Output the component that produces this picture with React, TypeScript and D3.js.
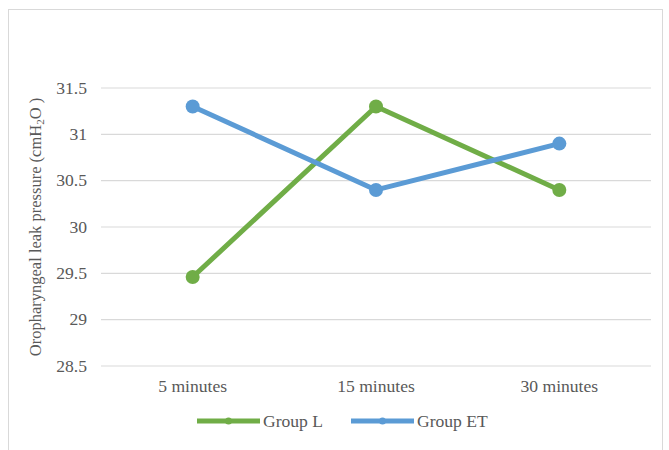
import React from "react";
import * as d3 from "d3";

const categories = ["5 minutes", "15 minutes", "30 minutes"];
const groupL = [29.46, 31.3, 30.4];
const groupET = [31.3, 30.4, 30.9];
const yTicks = [28.5, 29, 29.5, 30, 30.5, 31, 31.5];

const series = [
  { name: "Group L", values: groupL, color: "#70AD47" },
  { name: "Group ET", values: groupET, color: "#5B9BD5" },
];

const W = 669;
const H = 450;
const plot = { left: 101, right: 651, top: 88, bottom: 366 };
const font = "'Liberation Serif', 'Times New Roman', serif";
const fs = 16;
const sx = 1.1; // glyphs are slightly wide

export default function App() {
  const x = d3
    .scalePoint<string>()
    .domain(categories)
    .range([plot.left, plot.right])
    .padding(0.5);
  const y = d3.scaleLinear().domain([28.5, 31.5]).range([plot.bottom, plot.top]);
  const line = d3
    .line<number>()
    .x((_, i) => x(categories[i]) as number)
    .y((v) => y(v));

  return (
    <svg
      width={W}
      height={H}
      style={{ position: "absolute", left: 0, top: 0, background: "#fff" }}
    >
      <rect x={8.5} y={9.5} width={654} height={460} fill="#fff" stroke="#d9d9d9" />
      {yTicks.map((t) => (
        <g key={t}>
          <line
            x1={plot.left}
            x2={plot.right}
            y1={y(t)}
            y2={y(t)}
            stroke="#d9d9d9"
            strokeWidth={1.2}
          />
          <text
            transform={`translate(87, ${y(t)}) scale(${sx},1)`}
            dy="0.35em"
            textAnchor="end"
            fontFamily={font}
            fontSize={fs}
            fill="#595959"
          >
            {t}
          </text>
        </g>
      ))}
      {categories.map((c) => (
        <text
          key={c}
          transform={`translate(${x(c)}, 392) scale(${sx},1)`}
          textAnchor="middle"
          fontFamily={font}
          fontSize={fs}
          fill="#595959"
        >
          {c}
        </text>
      ))}
      <text
        transform={`translate(41, ${(plot.top + plot.bottom) / 2}) rotate(-90)`}
        textAnchor="middle"
        fontFamily={font}
        fontSize={16.5}
        fill="#595959"
      >
        Oropharyngeal leak pressure (cmH
        <tspan fontSize={11} dy={3}>2</tspan>
        <tspan dy={-3}>O )</tspan>
      </text>
      {series.map((s) => (
        <g key={s.name}>
          <path
            d={line(s.values) || ""}
            fill="none"
            stroke={s.color}
            strokeWidth={5}
            strokeLinejoin="round"
          />
          {s.values.map((v, i) => (
            <circle key={i} cx={x(categories[i])} cy={y(v)} r={7} fill={s.color} />
          ))}
        </g>
      ))}
      {series.map((s, i) => {
        const lx = i === 0 ? 197 : 351;
        return (
          <g key={s.name}>
            <line x1={lx} x2={lx + 63} y1={421} y2={421} stroke={s.color} strokeWidth={5} />
            <circle cx={lx + 31.5} cy={421} r={3.5} fill={s.color} />
            <text
              transform={`translate(${lx + 66}, 421) scale(${sx},1)`}
              dy="0.35em"
              fontFamily={font}
              fontSize={fs}
              fill="#595959"
            >
              {s.name}
            </text>
          </g>
        );
      })}
    </svg>
  );
}
